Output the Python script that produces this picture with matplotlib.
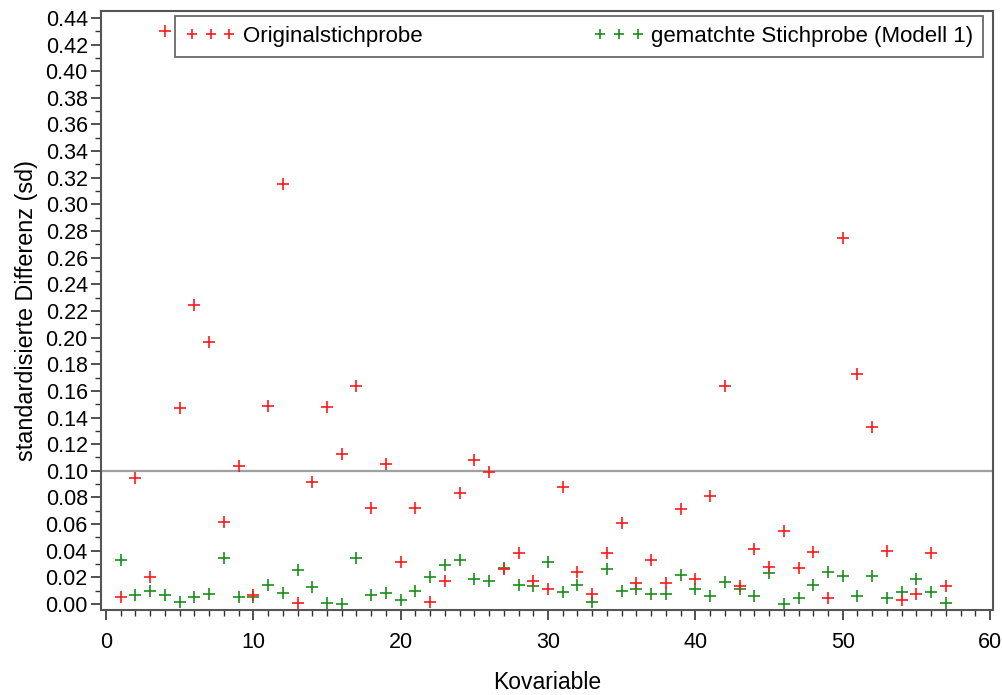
import numpy as np
import matplotlib.pyplot as plt
from matplotlib.ticker import MultipleLocator

plt.rcParams['font.family'] = ['Liberation Sans', 'DejaVu Sans']

kovariable = np.arange(1, 58)

# standardisierte Differenzen je Kovariable
original = [0.0055, 0.0944, 0.020, 0.430, 0.147, 0.2245, 0.197, 0.0618, 0.1036, 0.0065,
            0.149, 0.315, 0.001, 0.0913, 0.148, 0.1126, 0.1637, 0.0723, 0.1049, 0.0315,
            0.0723, 0.0018, 0.0173, 0.0836, 0.108, 0.0989, 0.026, 0.038, 0.0173, 0.0115,
            0.0876, 0.0238, 0.0073, 0.038, 0.061, 0.0155, 0.0333, 0.0155, 0.0716, 0.0185,
            0.081, 0.1637, 0.0137, 0.041, 0.028, 0.055, 0.0268, 0.0393, 0.0043, 0.275,
            0.1727, 0.1329, 0.040, 0.003, 0.0075, 0.0385, 0.0135]
gematcht = [0.033, 0.0065, 0.0095, 0.0065, 0.0018, 0.0055, 0.0075, 0.0348, 0.0055, 0.005,
            0.014, 0.0085, 0.0258, 0.013, 0.001, 0.000, 0.0348, 0.0065, 0.0085, 0.0028,
            0.0098, 0.020, 0.0295, 0.0333, 0.019, 0.017, 0.0273, 0.014, 0.0135, 0.0313,
            0.0088, 0.014, 0.0018, 0.0265, 0.0095, 0.011, 0.0075, 0.0075, 0.022, 0.0115,
            0.006, 0.0165, 0.0113, 0.006, 0.023, 0.000, 0.0043, 0.0143, 0.0243, 0.021,
            0.006, 0.021, 0.0043, 0.009, 0.019, 0.0088, 0.001]

grenze = 0.10

fig = plt.figure(figsize=(10.03, 6.95), dpi=100)
ax = fig.add_axes([101/1003, 1 - 610/695, 892/1003, 599/695])

ax.axhline(grenze, color='#a0a0a0', lw=1.6, zorder=1)
ax.plot(kovariable, original, ls='none', marker='+', ms=9, mew=1.2,
        color='#ff1a1a', label='Originalstichprobe', zorder=3)
ax.plot(kovariable, gematcht, ls='none', marker='+', ms=9, mew=1.2,
        color='#1a8f1a', label='gematchte Stichprobe (Modell 1)', zorder=2)

ax.set_xlim(-0.34, 60.2)
ax.set_ylim(-0.0045, 0.4452)
ax.xaxis.set_major_locator(MultipleLocator(10))
ax.xaxis.set_minor_locator(MultipleLocator(1))
ax.yaxis.set_major_locator(MultipleLocator(0.02))
ax.yaxis.set_minor_locator(MultipleLocator(0.01))
ax.yaxis.set_major_formatter(plt.FormatStrFormatter('%.2f'))
ax.tick_params(which='major', length=7, width=1.2, color='#333333', labelsize=15.5)
ax.tick_params(which='minor', length=4, width=1.0, color='#333333')
ax.tick_params(axis='x', pad=9)
ax.tick_params(axis='y', pad=2.5)
for s in ax.spines.values():
    s.set_color('#555555')
    s.set_linewidth(1.5)

ax.set_xlabel('Kovariable', fontsize=16.5, labelpad=13)
ax.set_ylabel('standardisierte Differenz (sd)', fontsize=16.8, labelpad=5)

leg = ax.legend(loc='upper left', bbox_to_anchor=(0.083, 0.923, 0.906, 0.069),
                mode='expand', ncol=2, numpoints=3, markerscale=0.8,
                fontsize=16, frameon=True, fancybox=False, borderaxespad=0,
                handlelength=2.3, handletextpad=0.3, borderpad=0.45)
leg.get_frame().set_edgecolor('#444444')
leg.get_frame().set_linewidth(1.3)

fig.savefig('out.png', dpi=100)
